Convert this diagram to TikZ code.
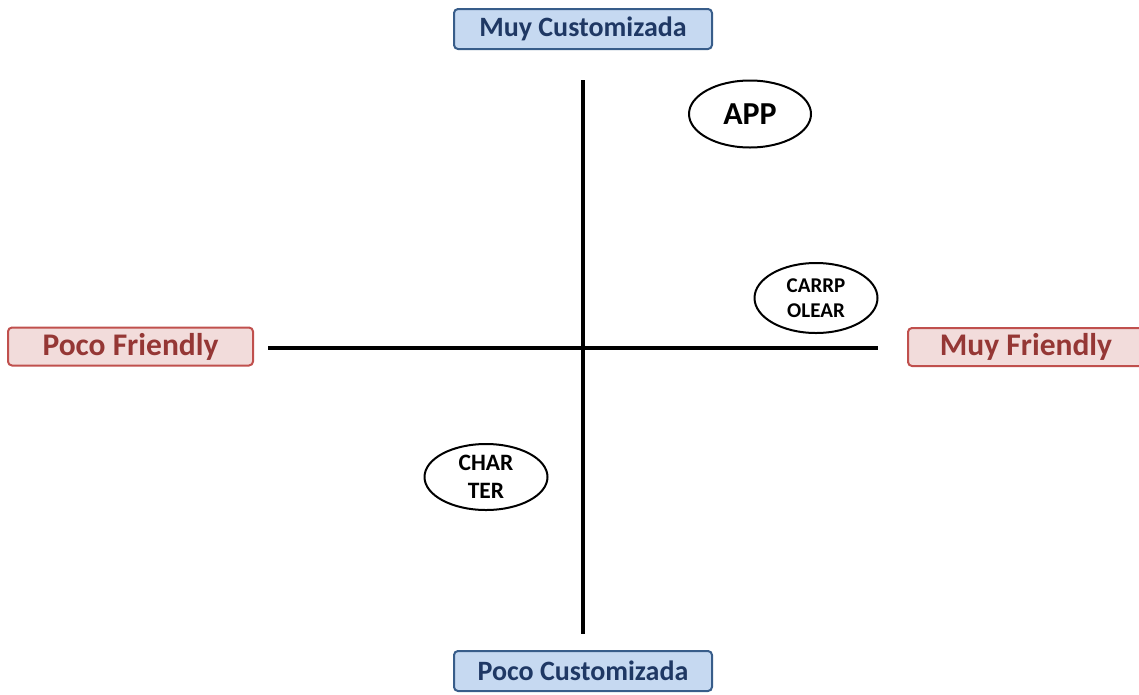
\documentclass[tikz,border=0pt]{standalone}
\usepackage{fontspec}
\setmainfont{Carlito}
\usetikzlibrary{shapes.geometric}
\definecolor{bluefill}{HTML}{C6D9F1}
\definecolor{blueline}{HTML}{385D8A}
\definecolor{bluetext}{HTML}{1F3864}
\definecolor{redfill}{HTML}{F2DCDB}
\definecolor{redline}{HTML}{C0504D}
\definecolor{redtext}{HTML}{953735}
\tikzset{
  custbox/.style={draw=blueline, fill=bluefill, line width=2pt, rounded corners=4pt,
    minimum width=258pt, minimum height=40pt, inner sep=0pt,
    text=bluetext, font=\bfseries\fontsize{28}{30}\selectfont},
  friendbox/.style={draw=redline, fill=redfill, line width=2pt, rounded corners=4pt,
    minimum height=38pt, inner sep=0pt,
    text=redtext, font=\bfseries\fontsize{31.5}{33}\selectfont},
  axis/.style={line width=3.5pt, black},
  bubble/.style={draw, ellipse, line width=2pt, inner sep=0pt, align=center, font=\bfseries},
}
\begin{document}
\begin{tikzpicture}[x=1pt, y=-1pt]
\useasboundingbox (0,0) rectangle (1139,694);
\clip (0,0) rectangle (1139,694);
% axes
\coordinate (top) at (583,80);
\coordinate (bottom) at (583,634);
\coordinate (left) at (268,348);
\coordinate (right) at (878,348);
\draw[axis] (top) -- (bottom);
\draw[axis] (left) -- (right);
% axis labels
\node[custbox] (mc) at (583,29) {Muy Customizada};
\node[custbox] (pc) at (583,671) {Poco Customizada};
\node[friendbox, minimum width=245pt] (pf) at (130.5,346.5) {Poco Friendly};
\node[friendbox, minimum width=236pt] (mf) at (1026,347) {Muy Friendly};
% quadrant items
\node[bubble, minimum width=122pt, minimum height=67pt, font=\bfseries\fontsize{32}{34}\selectfont] (app) at (750,114) {APP};
\node[bubble, minimum width=123pt, minimum height=70pt, font=\bfseries\fontsize{21}{25}\selectfont] (carr) at (816,298) {CARRP\\OLEAR};
\node[bubble, minimum width=123pt, minimum height=66pt, font=\bfseries\fontsize{23.5}{28}\selectfont] (char) at (486,477) {CHAR\\TER};
\end{tikzpicture}
\end{document}
